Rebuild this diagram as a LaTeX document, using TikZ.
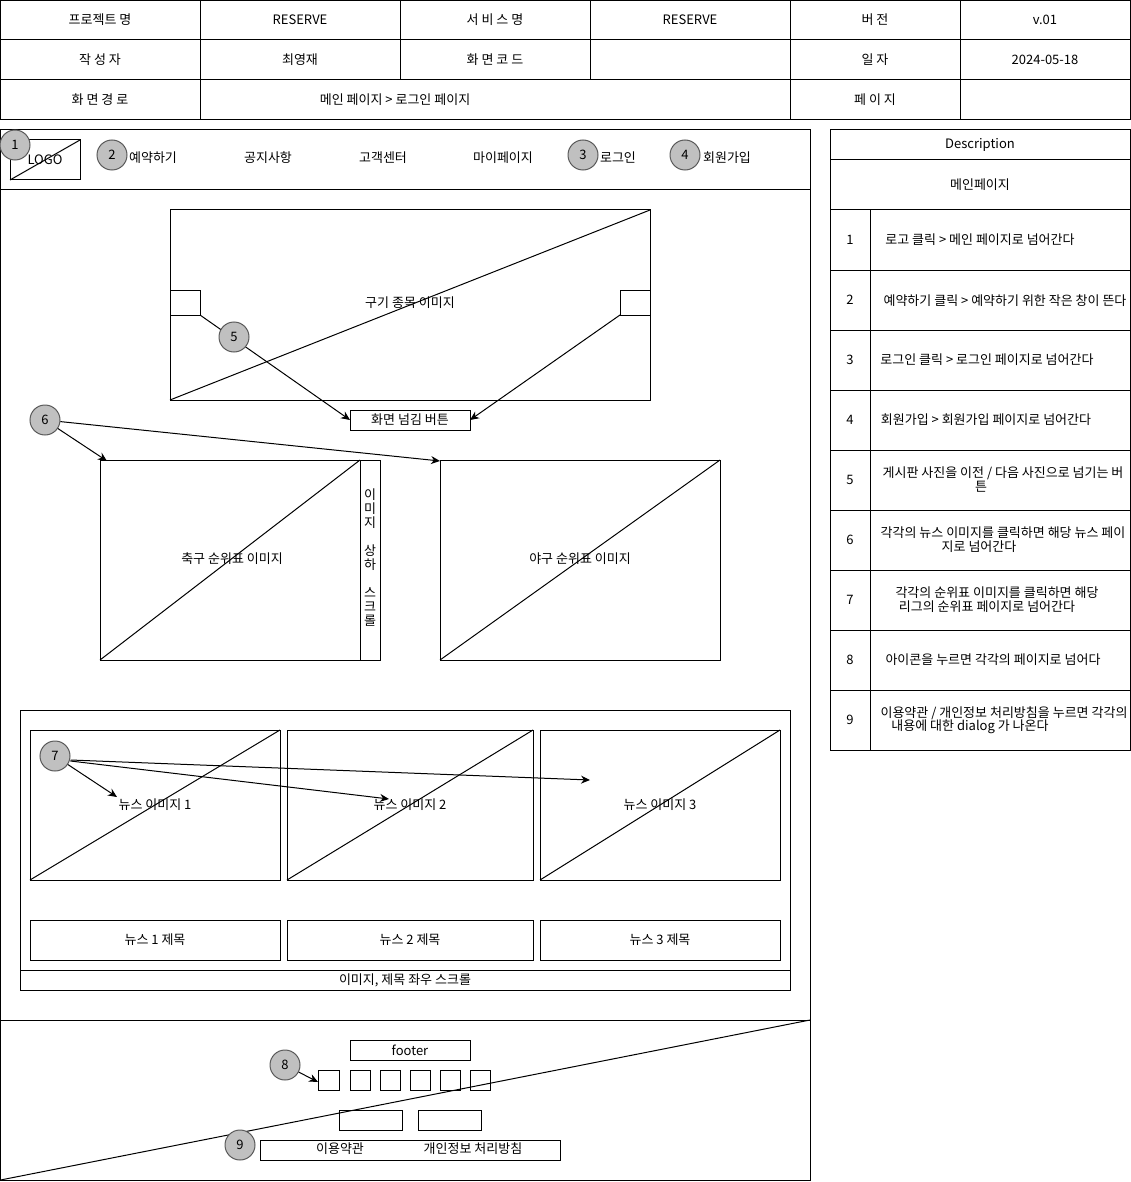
\documentclass[tikz,border=0pt]{standalone}
\usepackage{fontspec}
\setmainfont{Noto Sans CJK KR}
\usetikzlibrary{arrows.meta}
\definecolor{numfill}{RGB}{192,192,192}
\definecolor{numdraw}{RGB}{90,90,90}
\tikzset{
  every node/.style={font=\fontsize{13}{14}\selectfont},
  txt/.style={inner sep=0pt, outer sep=0pt, align=center},
  box/.style 2 args={draw, line width=1pt, inner sep=0pt, outer sep=0pt, minimum width=#1 pt, minimum height=#2 pt},
  num/.style={circle, draw=numdraw, line width=1pt, fill=numfill, minimum size=30pt, inner sep=0pt},
  arr/.style={line width=1pt, -{Stealth[length=9pt,width=8pt]}},
  ln/.style={line width=1pt},
}
\begin{document}
\begin{tikzpicture}[x=1pt,y=-1pt]
\useasboundingbox (0,0) rectangle (1131,1182);
% ---------- header table ----------
\draw[ln] (0.5,0.5) rectangle (1130.5,120);
\draw[ln] (0.5,40) -- (1130.5,40);
\draw[ln] (0.5,80) -- (1130.5,80);
\draw[ln] (200,0.5) -- (200,120);
\draw[ln] (400,0.5) -- (400,80);
\draw[ln] (590,0.5) -- (590,80);
\draw[ln] (790,0.5) -- (790,120);
\draw[ln] (960,0.5) -- (960,120);
\node[txt] (h11) at (100,20) {프로젝트 명};
\node[txt] (h12) at (300,20) {RESERVE};
\node[txt] (h13) at (495,20) {서 비 스 명};
\node[txt] (h14) at (690,20) {RESERVE};
\node[txt] (h15) at (875,20) {버 전};
\node[txt] (h16) at (1045,20) {v.01};
\node[txt] (h21) at (100,60) {작 성 자};
\node[txt] (h22) at (300,60) {최영재};
\node[txt] (h23) at (495,60) {화 면 코 드};
\node[txt] (h25) at (875,60) {일 자};
\node[txt] (h26) at (1045,60) {2024-05-18};
\node[txt] (h31) at (100,100) {화 면 경 로};
\node[txt] (h32) at (395,100) {메인 페이지 > 로그인 페이지};
\node[txt] (h35) at (875,100) {페 이 지};
% ---------- main frame ----------
\draw[ln] (0.5,130) rectangle (810,1180);
\draw[ln] (0.5,190) -- (810,190);
\draw[ln] (0.5,1020) -- (810,1020);
\draw[ln] (0.5,1180) -- (810,1020);
% nav bar
\node[box={70}{40}] (logo) at (45,160) {};
\draw[ln] (logo.south west) -- (logo.north east);
\node[txt] (logot) at (45,160) {LOGO};
\node[num] (c1) at (15,145) {1};
\node[num] (c2) at (112,155) {2};
\node[txt] (nav1) at (153,158) {예약하기};
\node[txt] (nav2) at (268,158) {공지사항};
\node[txt] (nav3) at (383,158) {고객센터};
\node[txt] (nav4) at (503,158) {마이페이지};
\node[num] (c3) at (583,155) {3};
\node[txt] (nav5) at (618,158) {로그인};
\node[num] (c4) at (685,155) {4};
\node[txt] (nav6) at (727,158) {회원가입};
% big image
\node[box={480}{190}] (big) at (410,305) {};
\draw[ln] (big.south west) -- (big.north east);
\node[txt] (bigt) at (410,303) {구기 종목 이미지};
\node[box={30}{25}] (lb) at (185,302.5) {};
\node[box={30}{25}] (rb) at (635,302.5) {};
\node[box={120}{20}] (btn) at (410,420) {화면 넘김 버튼};
\draw[arr] (lb.south east) -- (btn.west);
\draw[arr] (rb.south west) -- (btn.east);
\node[num] (c5) at (234,337) {5};
% standings
\node[box={260}{200}] (fb) at (230,560) {};
\draw[ln] (fb.south west) -- (fb.north east);
\node[txt] (fbt) at (232,559) {축구 순위표 이미지};
\node[box={20}{200}] (scr) at (370,560) {};
\node[txt, font=\fontsize{13}{14}\selectfont] (scrt) at (370,558) {이\\미\\지\\\mbox{}\\상\\하\\\mbox{}\\스\\크\\롤};
\node[box={280}{200}] (bb) at (580,560) {};
\draw[ln] (bb.south west) -- (bb.north east);
\node[txt] (bbt) at (580,559) {야구 순위표 이미지};
\node[num] (c6) at (45,420) {6};
\coordinate (t61) at (107,461);
\coordinate (t62) at (440,461);
\draw[arr] (c6) -- (t61);
\draw[arr] (c6) -- (t62);
% news
\node[box={770}{280}] (news) at (405,850) {};
\node[box={770}{20}] (cap) at (405,980) {이미지, 제목 좌우 스크롤};
\node[box={250}{150}] (n1) at (155,805) {};
\node[box={246}{150}] (n2) at (410,805) {};
\node[box={240}{150}] (n3) at (660,805) {};
\draw[ln] (n1.south west) -- (n1.north east);
\draw[ln] (n2.south west) -- (n2.north east);
\draw[ln] (n3.south west) -- (n3.north east);
\node[txt] (n1t) at (155,805) {뉴스 이미지 1};
\node[txt] (n2t) at (410,805) {뉴스 이미지 2};
\node[txt] (n3t) at (660,805) {뉴스 이미지 3};
\node[box={250}{40}] (t1) at (155,940) {뉴스 1 제목};
\node[box={246}{40}] (t2) at (410,940) {뉴스 2 제목};
\node[box={240}{40}] (t3) at (660,940) {뉴스 3 제목};
\node[num] (c7) at (55,756) {7};
\coordinate (t71) at (117,797);
\coordinate (t72) at (389,799);
\coordinate (t73) at (590,780);
\draw[arr] (c7) -- (t71);
\draw[arr] (c7.east) ++(0,5) -- (t72);
\draw[arr] (c7.east) ++(0,4) -- (t73);
% footer
\node[box={120}{20}] (foot) at (410,1050) {footer};
\node[box={21}{20}] (s1) at (329,1080) {};
\node[box={20}{20}] (s2) at (360,1080) {};
\node[box={20}{20}] (s3) at (390,1080) {};
\node[box={20}{20}] (s4) at (420,1080) {};
\node[box={20}{20}] (s5) at (450,1080) {};
\node[box={20}{20}] (s6) at (480,1080) {};
\node[num] (c8) at (285,1065) {8};
\coordinate (t81) at (318,1082);
\draw[arr] (c8) -- (t81);
\node[box={63}{20}] (fb1) at (370.5,1120) {};
\node[box={63}{20}] (fb2) at (449.5,1120) {};
\node[box={300}{20}] (terms) at (410,1150) {};
\node[txt] (term1) at (340,1149) {이용약관};
\node[txt] (term2) at (473,1149) {개인정보 처리방침};
\node[num] (c9) at (240,1145) {9};
% ---------- description table ----------
\draw[ln] (830,130) rectangle (1130.5,750);
\foreach \yy in {160,210,270,330,390,450,510,570,630,690} {\draw[ln] (830,\yy) -- (1130.5,\yy);}
\draw[ln] (870,210) -- (870,750);
\node[txt] (dh) at (980,145) {Description};
\node[txt] (dm) at (980,185) {메인페이지};
\node[txt] (d1n) at (850,240) {1};
\node[txt] (d2n) at (850,300) {2};
\node[txt] (d3n) at (850,360) {3};
\node[txt] (d4n) at (850,420) {4};
\node[txt] (d5n) at (850,480) {5};
\node[txt] (d6n) at (850,540) {6};
\node[txt] (d7n) at (850,600) {7};
\node[txt] (d8n) at (850,660) {8};
\node[txt] (d9n) at (850,720) {9};
\node[txt] (d1) at (980,240) {로고 클릭 > 메인 페이지로 넘어간다};
\node[txt] (d2) at (1005,301) {예약하기 클릭 > 예약하기 위한 작은 창이 뜬다};
\node[txt] (d3) at (987,360) {로그인 클릭 > 로그인 페이지로 넘어간다};
\node[txt] (d4) at (986,420) {회원가입 > 회원가입 페이지로 넘어간다};
\node[txt] (d5a) at (1003,473) {게시판 사진을 이전 / 다음 사진으로 넘기는 버};
\node[txt] (d5b) at (981,487) {튼};
\node[txt] (d6a) at (1003,533) {각각의 뉴스 이미지를 클릭하면 해당 뉴스 페이};
\node[txt] (d6b) at (979,547) {지로 넘어간다};
\node[txt] (d7a) at (997,593) {각각의 순위표 이미지를 클릭하면 해당};
\node[txt] (d7b) at (987,607) {리그의 순위표 페이지로 넘어간다};
\node[txt] (d8) at (993,660) {아이콘을 누르면 각각의 페이지로 넘어다};
\node[txt] (d9a) at (1004,713) {이용약관 / 개인정보 처리방침을 누르면 각각의};
\node[txt] (d9b) at (970,727) {내용에 대한 dialog 가 나온다};
\end{tikzpicture}
\end{document}
